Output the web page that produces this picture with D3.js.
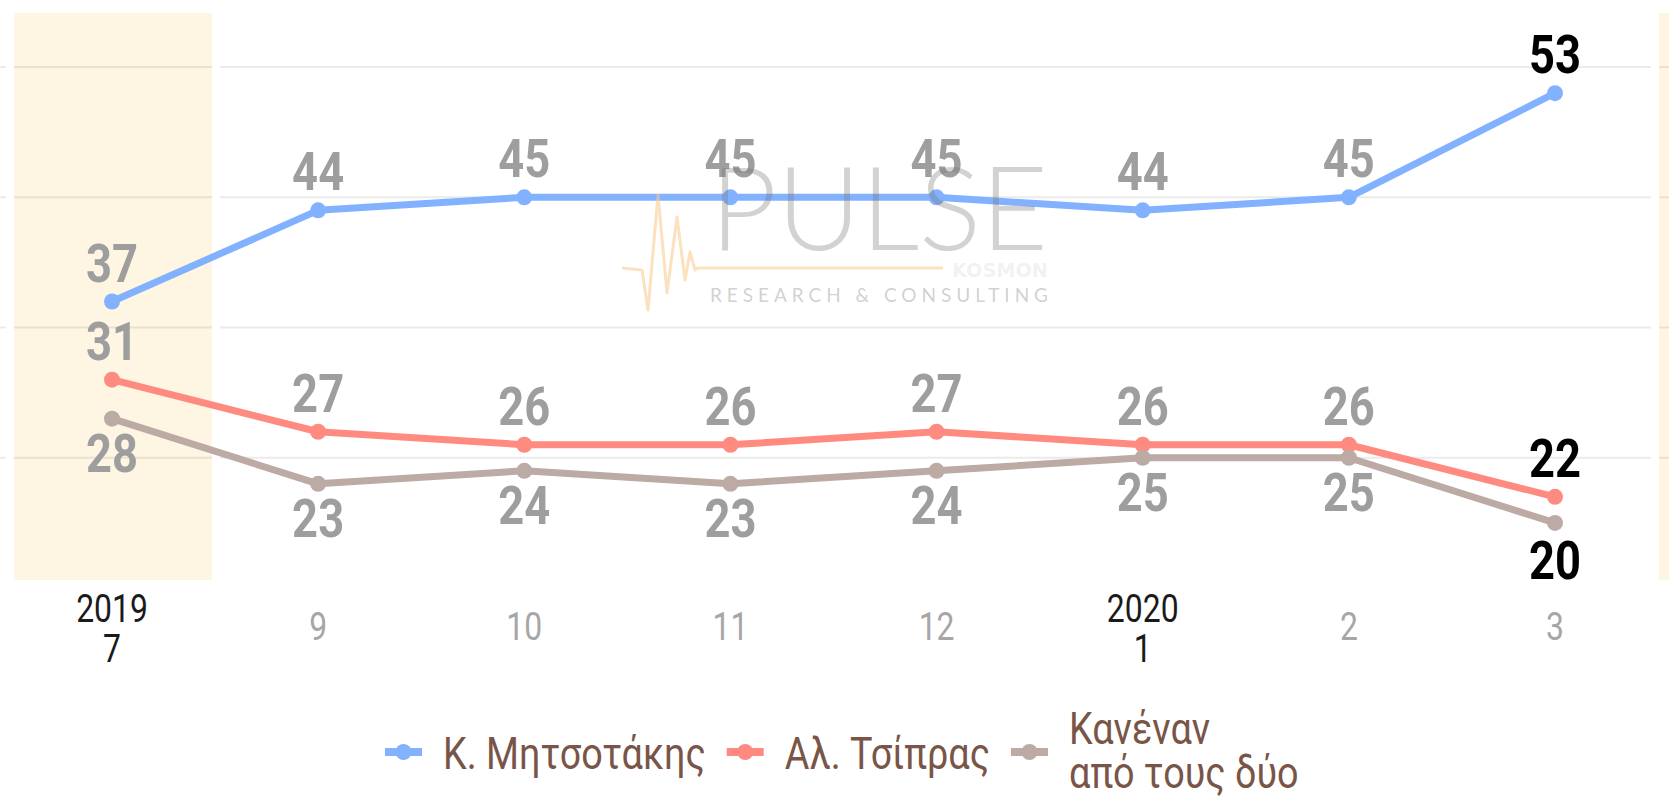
<!DOCTYPE html>
<html><head><meta charset="utf-8">
<script src="https://cdn.jsdelivr.net/npm/d3@7"></script>
<style>html,body{margin:0;padding:0;background:#fff;overflow:hidden}</style>
</head><body>
<svg id="c" width="1669" height="796"></svg>
<script>
// ---- data ----
const categories = ["2019-7","2019-9","2019-10","2019-11","2019-12","2020-1","2020-2","2020-3"];
const monthLabels = ["7","9","10","11","12","1","2","3"];
const yearLabels  = ["2019","","","","","2020","",""];
const seriesNames = ["Κ. Μητσοτάκης","Αλ. Τσίπρας","Κανέναν|από τους δύο"];
const mitsotakis = [37,44,45,45,45,44,45,53];
const tsipras    = [31,27,26,26,27,26,26,22];
const kanenan    = [28,23,24,23,24,25,25,20];
const gridValues = [25,35,45,55];

const seriesColors = ["#82B1FF","#FF8A80","#BCAAA4"];
const labelSide = ["above","above","below"];
const series = [mitsotakis, tsipras, kanenan].map((v,i)=>({name:seriesNames[i], values:v, color:seriesColors[i], side:labelSide[i]}));

const svg = d3.select("#c");
const W = 1669;
const x = d3.scalePoint().domain(categories).range([112,1555]);
const y = d3.scaleLinear().domain([15,60]).range([588,2]);
const step = x.step();
const bandTop = 13, bandBottom = 580;
const SX = 0.82; // condensed

function ctext(g, px, py, str, o){
  return g.append("text")
    .attr("transform", `translate(${px},${py}) scale(${o.sx||SX},1)`)
    .attr("text-anchor", o.anchor||"middle")
    .attr("font-family", o.family||"Roboto, 'Liberation Sans', sans-serif")
    .attr("font-size", o.size)
    .attr("font-weight", o.weight||400)
    .attr("fill", o.fill)
    .text(str);
}

// ---- plot bands ----
const bands = [
  {x0: x(categories[0]) - step/2 + 5, x1: x(categories[0]) + step/2 - 3},
  {x0: x(categories[categories.length-1]) + step/2 + 1, x1: W + 20}
];
svg.selectAll("rect.band").data(bands).join("rect").attr("class","band")
  .attr("x", d=>d.x0).attr("y", bandTop).attr("width", d=>d.x1-d.x0).attr("height", bandBottom-bandTop)
  .attr("fill","#FEF5E3");

// ---- gridlines ----
svg.selectAll("line.grid").data(gridValues).join("line").attr("class","grid")
  .attr("x1",0).attr("x2",W).attr("y1",d=>y(d)).attr("y2",d=>y(d))
  .attr("stroke","rgba(0,0,0,0.08)").attr("stroke-width",2);
// white gaps around bands
const gaps = [];
bands.forEach(b=>{ gaps.push(b.x0-8); gaps.push(b.x1); });
svg.selectAll("rect.gap").data(gaps).join("rect").attr("class","gap")
  .attr("x",d=>d).attr("y",bandTop-2).attr("width",8).attr("height",bandBottom-bandTop+4).attr("fill","#fff");

// ---- x axis labels ----
const xa = svg.append("g");
categories.forEach((c,i)=>{
  const px = x(c);
  if (yearLabels[i]) {
    ctext(xa, px, 622, yearLabels[i], {size:38, sx:0.84, fill:"#1a1a1a"});
    ctext(xa, px, 662, monthLabels[i], {size:38, sx:0.84, fill:"#1a1a1a"});
  } else {
    ctext(xa, px, 640, monthLabels[i], {size:38, sx:0.84, fill:"#a6a6a6"});
  }
});

// ---- lines ----
const line = d3.line().x((d,i)=>x(categories[i])).y(d=>y(d));
series.forEach(s=>{
  svg.append("path").datum(s.values).attr("d",line)
    .attr("fill","none").attr("stroke",s.color).attr("stroke-width",7)
    .attr("stroke-linejoin","round").attr("stroke-linecap","round");
  svg.append("g").selectAll("circle").data(s.values).join("circle")
    .attr("cx",(d,i)=>x(categories[i])).attr("cy",d=>y(d)).attr("r",8).attr("fill",s.color);
});

// ---- value labels ----
const lab = svg.append("g");
series.forEach(s=>{
  s.values.forEach((v,i)=>{
    const last = i===s.values.length-1;
    const off = s.side==="above" ? -20 : (last ? 56 : 53);
    ctext(lab, x(categories[i]), y(v)+off, v, {size:54, weight:700, sx:0.84, fill: last ? "#000" : "#9e9e9e"});
  });
});

// ---- legend ----
const lg = svg.append("g");
let lx = 385; const ly = 752;
const LSX = 0.84;
series.forEach(s=>{
  lg.append("line").attr("x1",lx).attr("x2",lx+37).attr("y1",ly).attr("y2",ly)
    .attr("stroke",s.color).attr("stroke-width",8);
  lg.append("circle").attr("cx",lx+18.5).attr("cy",ly).attr("r",8).attr("fill",s.color);
  const parts = s.name.split("|");
  let maxw = 0;
  parts.forEach((p,k)=>{
    const by = parts.length===1 ? 769 : 744 + k*44;
    const t = ctext(lg, lx+58, by, p, {size:45, sx:LSX, anchor:"start", fill:"#795548"});
    maxw = Math.max(maxw, t.node().getComputedTextLength()*LSX);
  });
  lx += 58 + maxw + 21;
});

// ---- watermark ----
const wm = svg.append("g").attr("pointer-events","none");
wm.append("path")
  .attr("d","M622,268 L642,270 L648,310 L658,195 L667,293 L677,217 L685,280 L690,252 L695,270 L697,268 L943,268")
  .attr("fill","none").attr("stroke","#F9C98A").attr("stroke-opacity",0.55).attr("stroke-width",3).attr("stroke-linejoin","round");
wm.append("text").attr("x",710).attr("y",250).attr("font-family","Lato, sans-serif").attr("font-weight",300)
  .attr("font-size",116).attr("fill","#777").attr("fill-opacity",0.33)
  .attr("textLength",338).attr("lengthAdjust","spacing").text("PULSE");
wm.append("text").attr("x",952).attr("y",277).attr("font-family","'DejaVu Sans', sans-serif").attr("font-weight",700)
  .attr("font-size",20).attr("fill","#999").attr("fill-opacity",0.15)
  .attr("textLength",96).attr("lengthAdjust","spacingAndGlyphs").text("KOSMON");
wm.append("text").attr("x",710).attr("y",302).attr("font-family","Lato, sans-serif").attr("font-weight",400)
  .attr("font-size",19).attr("fill","#888").attr("fill-opacity",0.4)
  .attr("textLength",338).attr("lengthAdjust","spacing").text("RESEARCH & CONSULTING");
</script>
</body></html>
